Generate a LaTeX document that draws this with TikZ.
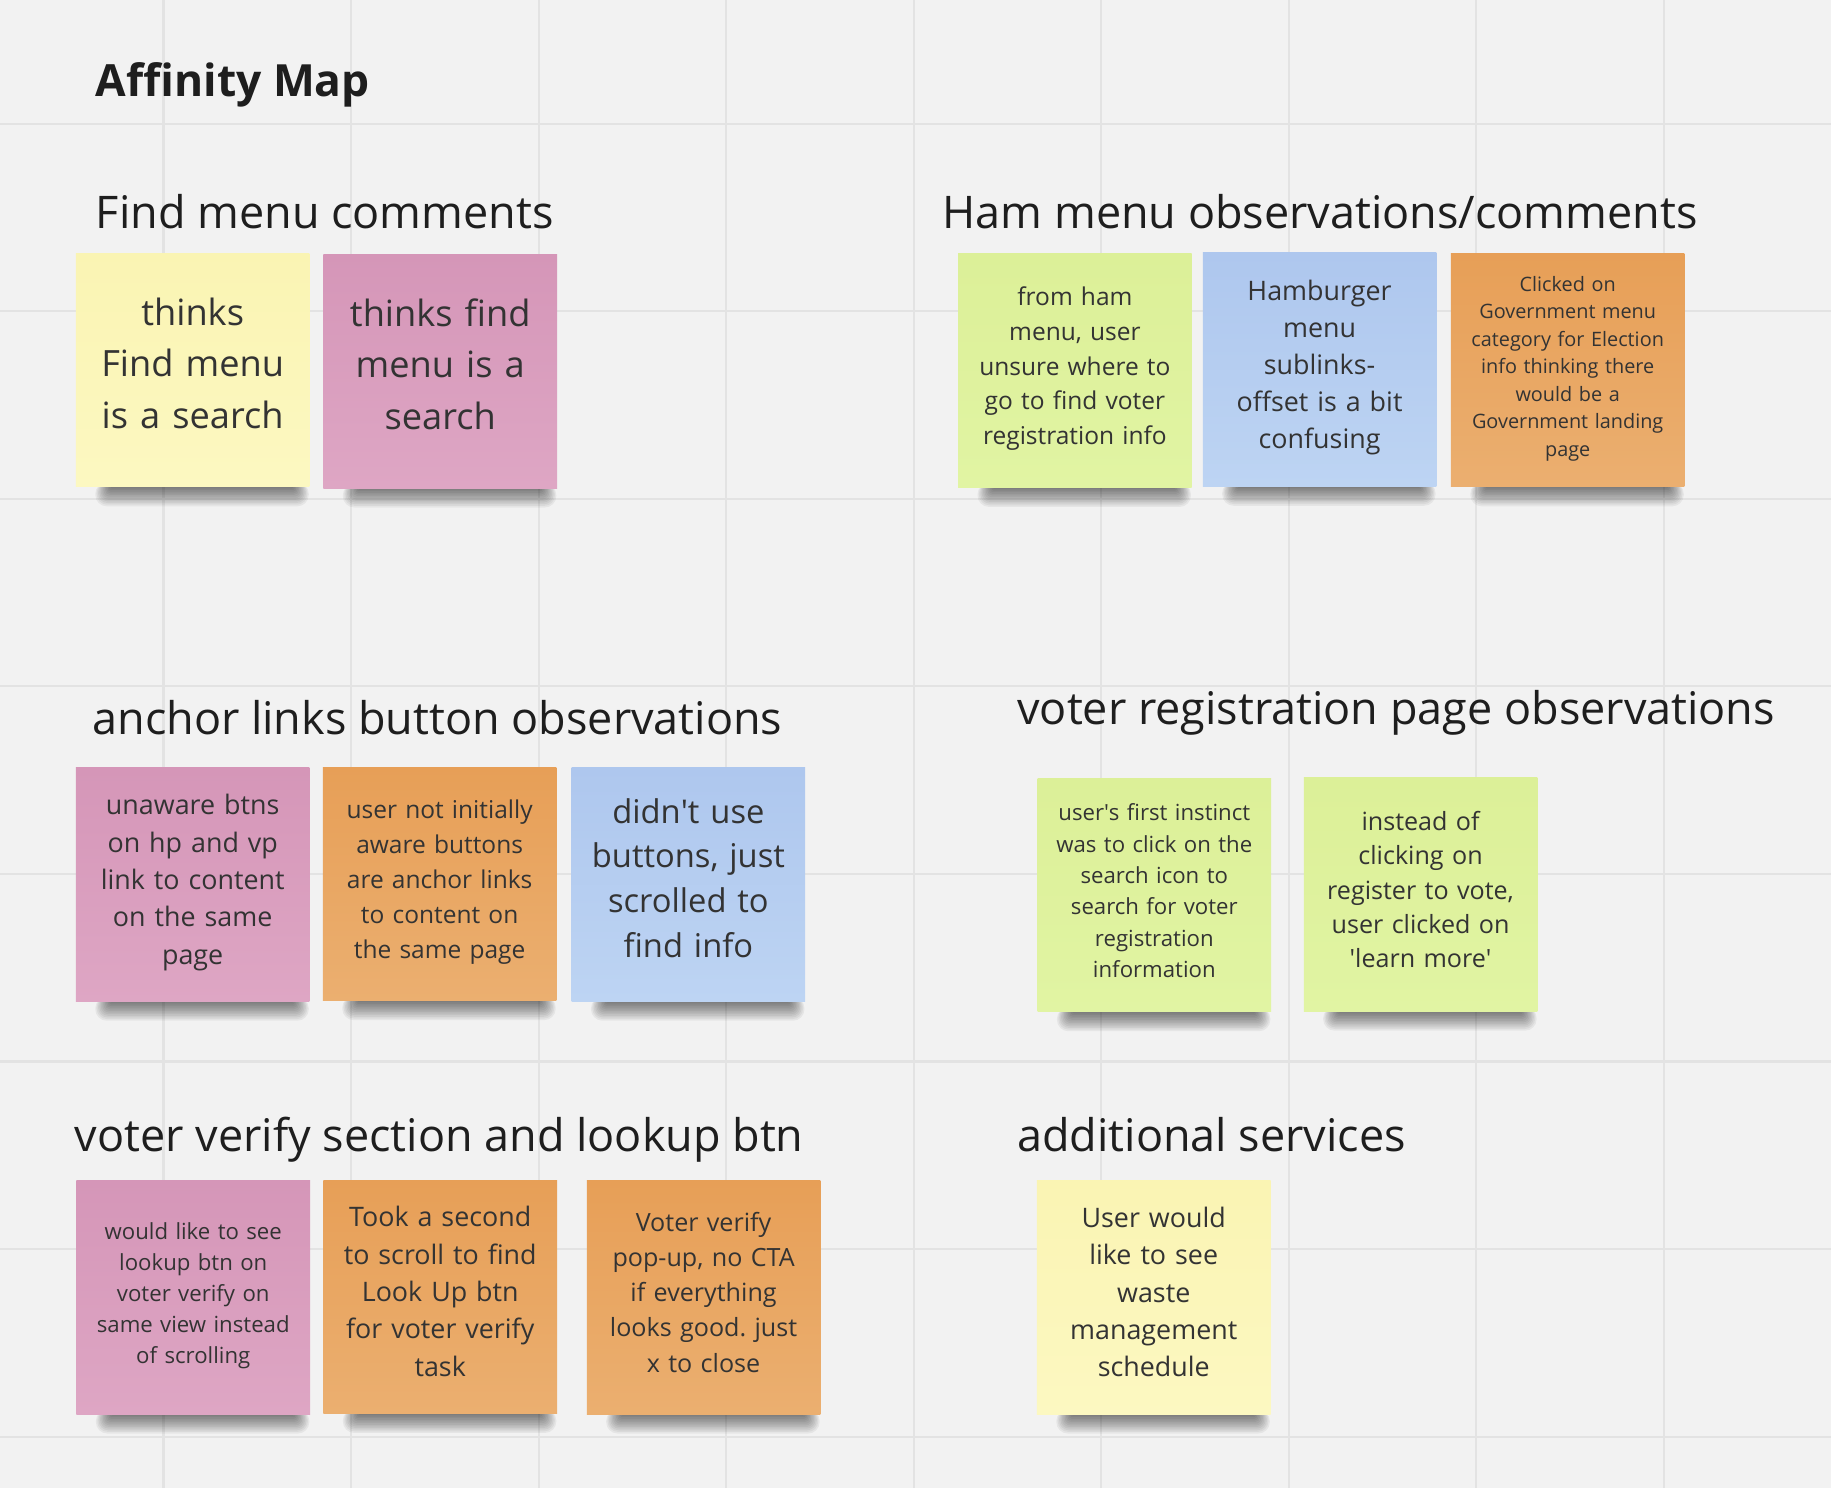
\documentclass[tikz,border=0pt]{standalone}
\usepackage{fontspec}
\setmainfont{Open Sans}
\frenchspacing
\definecolor{paper}{HTML}{F2F2F2}
\definecolor{gridgray}{HTML}{E3E3E3}
\definecolor{ink}{HTML}{333333}
\definecolor{headink}{HTML}{1E1E1E}
\definecolor{pinktop}{HTML}{D596B8}
\definecolor{pinkbot}{HTML}{DEA6C4}
\definecolor{orangetop}{HTML}{E79F57}
\definecolor{orangebot}{HTML}{EBAF70}
\definecolor{bluetop}{HTML}{AEC7EE}
\definecolor{bluebot}{HTML}{BDD4F3}
\definecolor{greentop}{HTML}{DCF098}
\definecolor{greenbot}{HTML}{E1F4A3}
\definecolor{yellowtop}{HTML}{FAF4B3}
\definecolor{yellowbot}{HTML}{FCF8C1}
\pgfdeclarelayer{back}
\pgfdeclarelayer{shade}
\pgfsetlayers{back,shade,main}
\begin{document}
\begin{tikzpicture}[x=1pt,y=-1pt,
  gridline/.style={draw=gridgray,line width=1.8pt},
  heading/.style={anchor=base west,inner sep=0pt,text=headink,font=\fontsize{38.5}{46}\selectfont},
  note/.style n args={3}{minimum width=200pt,minimum height=200pt,text width=196pt,inner sep=0pt,align=center,text=ink,
    top color=#1top,bottom color=#1bot,font=\fontsize{#2}{#3}\selectfont,execute at end node={\rule[-0.4em]{0pt}{0.4em}}},
  noteshadow/.style={fill=black,opacity=0.05}]
\useasboundingbox (0,0) rectangle (1568,1274.3);
% Draw the board and its grid
\begin{pgfonlayer}{back}
\fill[paper] (0,0) rectangle (1568,1274.3);
\foreach \i in {0,...,8}
{
\draw[gridline] ({140+160.6*\i},0) -- ({140+160.6*\i},1274.3);
}
\foreach \i in {0,...,7}
{
\draw[gridline] (0,{106+160.6*\i}) -- (1568,{106+160.6*\i});
}
\end{pgfonlayer}
% Draw the headings
\node[heading,font=\fontsize{38}{46}\selectfont\bfseries] (title) at (82,83) {Affinity Map};
\node[heading] (findhead) at (82,196) {Find menu comments};
\node[heading] (hamhead) at (807,196) {Ham menu observations/comments};
\node[heading] (anchorhead) at (79,629) {anchor links button observations};
\node[heading] (reghead) at (871,620) {voter registration page observations};
\node[heading] (verifyhead) at (64,986) {voter verify section and lookup btn};
\node[heading] (extrahead) at (871,986) {additional services};
% Draw the notes
\node[note={yellow}{31}{44}] (find1) at (165,317) {thinks\\Find menu\\is a search};
\node[note={pink}{31}{44}] (find2) at (377,318) {thinks find\\menu is a\\search};
\node[note={green}{21}{29.7}] (ham1) at (920.5,317.5) {from ham\\menu, user\\unsure where to\\go to find voter\\registration info};
\node[note={blue}{23}{31.7}] (ham2) at (1130,316.5) {Hamburger\\menu\\sublinks-\\offset is a bit\\confusing};
\node[note={orange}{17}{23.5}] (ham3) at (1342.5,317) {Clicked on\\Government menu\\category for Election\\info thinking there\\would be a\\Government landing\\page};
\node[note={pink}{23}{32}] (anchor1) at (165,757.5) {unaware btns\\on hp and vp\\link to content\\on the same\\page};
\node[note={orange}{21}{30}] (anchor2) at (376.5,757) {user not initially\\aware buttons\\are anchor links\\to content on\\the same page};
\node[note={blue}{28}{38.5}] (anchor3) at (589.5,757.5) {didn\textquotesingle t use\\buttons, just\\scrolled to\\find info};
\node[note={green}{19}{26.8}] (reg1) at (988.5,766.5) {user\textquotesingle s first instinct\\was to click on the\\search icon to\\search for voter\\registration\\information};
\node[note={green}{21.5}{29.5}] (reg2) at (1216.5,766) {instead of\\clicking on\\register to vote,\\user clicked on\\\textquotesingle learn more\textquotesingle};
\node[note={pink}{19}{26.7}] (verify1) at (165.5,1111) {would like to see\\lookup btn on\\voter verify on\\same view instead\\of scrolling};
\node[note={orange}{23}{32}] (verify2) at (377,1110.5) {Took a second\\to scroll to find\\Look Up btn\\for voter verify\\task};
\node[note={orange}{21.5}{30}] (verify3) at (602.5,1111) {Voter verify\\pop-up, no CTA\\if everything\\looks good. just\\x to close};
\node[note={yellow}{23}{32}] (extra1) at (988,1111) {User would\\like to see\\waste\\management\\schedule};
% Draw the shadows under the notes
\begin{pgfonlayer}{shade}
\foreach \n in {find1,find2,ham1,ham2,ham3,anchor1,anchor2,anchor3,reg1,reg2,verify1,verify2,verify3,extra1}
\foreach \k in {0,...,11}
{
\fill[noteshadow,rounded corners={1pt+0.8*\k pt}] ([xshift={30pt-1.2*\k pt},yshift=4pt]\n.south west) rectangle ([xshift={-14pt+1.2*\k pt},yshift={-1pt-1.4*\k pt}]\n.south east);
}
\end{pgfonlayer}
\end{tikzpicture}
\end{document}
